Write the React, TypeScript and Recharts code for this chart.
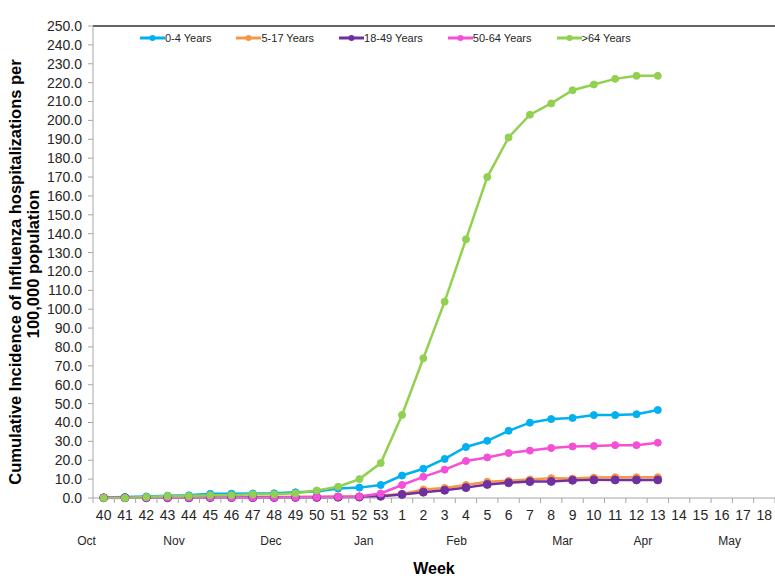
import React from "react";
import {
  LineChart,
  Line,
  XAxis,
  YAxis,
  Legend,
  ReferenceLine,
  Label,
} from "recharts";

const WEEKS = [
  "40", "41", "42", "43", "44", "45", "46", "47", "48", "49", "50", "51", "52", "53",
  "1", "2", "3", "4", "5", "6", "7", "8", "9", "10", "11", "12", "13", "14", "15", "16", "17", "18",
];

// values through week 13; later weeks are empty
const AGE_0_4 = [
  0.3, 0.5, 0.8, 1.2, 1.4, 2.2, 2.3, 2.4, 2.5, 3.0, 3.5, 5.0, 5.5, 6.9,
  11.9, 15.5, 20.7, 27.0, 30.3, 35.6, 39.9, 41.8, 42.4, 43.9, 43.9, 44.4, 46.6,
];
const AGE_5_17 = [
  0.1, 0.1, 0.2, 0.2, 0.3, 0.4, 0.4, 0.5, 0.5, 0.6, 0.7, 0.8, 0.9, 1.3,
  2.1, 4.5, 5.3, 6.9, 8.6, 9.1, 9.8, 10.5, 10.3, 10.8, 11.0, 11.0, 11.0,
];
const AGE_18_49 = [
  0.1, 0.1, 0.1, 0.1, 0.1, 0.2, 0.2, 0.2, 0.2, 0.3, 0.3, 0.4, 0.5, 0.9,
  1.9, 3.1, 4.1, 5.5, 7.2, 8.1, 8.7, 8.8, 9.4, 9.6, 9.6, 9.6, 9.6,
];
const AGE_50_64 = [
  0.1, 0.1, 0.2, 0.2, 0.2, 0.3, 0.3, 0.3, 0.3, 0.4, 0.5, 0.7, 0.8, 2.4,
  6.9, 11.2, 15.0, 19.6, 21.5, 23.8, 25.1, 26.5, 27.3, 27.5, 28.0, 28.0, 29.3,
];
const AGE_65 = [
  0.0, 0.0, 0.5, 1.0, 1.0, 1.5, 1.5, 2.0, 2.0, 2.5, 4.0, 6.0, 10.0, 18.5,
  44.0, 74.0, 104.0, 137.0, 170.0, 191.0, 203.0, 209.0, 216.0, 219.0, 222.0, 223.6, 223.6,
];

const SERIES = [
  { key: "a", name: "0-4 Years", color: "#00B0F0", values: AGE_0_4 },
  { key: "b", name: "5-17 Years", color: "#F79646", values: AGE_5_17 },
  { key: "c", name: "18-49 Years", color: "#7030A0", values: AGE_18_49 },
  { key: "d", name: "50-64 Years", color: "#F54FD7", values: AGE_50_64 },
  { key: "e", name: ">64 Years", color: "#92D050", values: AGE_65 },
];

// month name, anchor week, shift in weeks
const MONTHS: [string, string, number][] = [
  ["Oct", "40", -0.8],
  ["Nov", "43", 0.3],
  ["Dec", "48", -0.15],
  ["Jan", "52", 0.2],
  ["Feb", "3", 0.56],
  ["Mar", "8", 0.53],
  ["Apr", "13", -0.7],
  ["May", "17", -0.63],
];

const Y_TICKS = Array.from({ length: 26 }, (_, i) => i * 10);

const data = WEEKS.map((w, i) => {
  const row: Record<string, string | number | null> = { week: w };
  SERIES.forEach((s) => {
    row[s.key] = i < s.values.length ? s.values[i] : null;
  });
  return row;
});

const STEP = 21.3;
const FONT = "'Liberation Sans', Arial, sans-serif";

function WeekTick(props: any) {
  const { x, y, payload, index } = props;
  const month = MONTHS.find((m) => m[1] === payload.value);
  const last = index === WEEKS.length - 1;
  return (
    <g>
      <line x1={x - STEP / 2} x2={x - STEP / 2} y1={y - 8} y2={y - 3} stroke="#A6A6A6" />
      {last && (
        <line x1={x + STEP / 2} x2={x + STEP / 2} y1={y - 8} y2={y - 3} stroke="#A6A6A6" />
      )}
      <text x={x} y={y + 14} textAnchor="middle" fontSize={14} fill="#262626" fontFamily={FONT}>
        {payload.value}
      </text>
      {month && (
        <text
          x={x + month[2] * STEP}
          y={y + 39}
          textAnchor="middle"
          fontSize={12}
          fill="#262626"
          fontFamily={FONT}
        >
          {month[0]}
        </text>
      )}
    </g>
  );
}

function LegendBox() {
  return (
    <div style={{ display: "flex", fontFamily: FONT, fontSize: 11, color: "#262626" }}>
      {SERIES.map((s) => (
        <div key={s.key} style={{ display: "flex", alignItems: "center", marginRight: 25 }}>
          <svg width={25} height={8}>
            <line x1={0} x2={25} y1={4} y2={4} stroke={s.color} strokeWidth={3} />
            <circle cx={12.5} cy={4} r={3} fill={s.color} />
          </svg>
          <span>{s.name}</span>
        </div>
      ))}
    </div>
  );
}

function YTitle() {
  const cy = 272;
  return (
    <g fontFamily={FONT} fontWeight="bold" fontSize={16.5} fill="#000">
      <text x={15} y={cy} textAnchor="middle" dominantBaseline="central" transform={`rotate(-90 15 ${cy})`}>
        Cumulative Incidence of Influenza hospitalizations per
      </text>
      <text x={33} y={cy - 8} textAnchor="middle" dominantBaseline="central" transform={`rotate(-90 33 ${cy - 8})`}>
        100,000 population
      </text>
    </g>
  );
}

export default function App() {
  return (
    <div style={{ position: "absolute", left: 0, top: 0, width: 775, height: 576, background: "#fff" }}>
      <LineChart width={775} height={576} data={data} margin={{ top: 14, right: 0, left: 0, bottom: 0 }}>
        <XAxis
          dataKey="week"
          interval={0}
          padding={{ left: 10.65, right: 10.65 }}
          stroke="#A6A6A6"
          tickLine={false}
          tick={<WeekTick />}
          height={78}
        >
          <Label
            value="Week"
            position="insideBottom"
            offset={0}
            dy={-2}
            style={{ fontFamily: FONT, fontWeight: "bold", fontSize: 16, fill: "#000" }}
          />
        </XAxis>
        <YAxis
          width={93}
          domain={[0, 250]}
          ticks={Y_TICKS}
          interval={0}
          stroke="#A6A6A6"
          tickSize={5}
          tickMargin={6}
          tick={{ fontSize: 14, fill: "#262626", fontFamily: FONT }}
          tickFormatter={(v: number) => v.toFixed(1)}
        >
          <Label content={<YTitle />} />
        </YAxis>
        <ReferenceLine y={250} stroke="#303030" strokeWidth={1.5} />
        <Legend
          verticalAlign="top"
          align="left"
          content={<LegendBox />}
          wrapperStyle={{ top: 32, left: 140, width: 600 }}
        />
        {SERIES.map((s) => (
          <Line
            key={s.key}
            dataKey={s.key}
            name={s.name}
            stroke={s.color}
            strokeWidth={2.5}
            dot={{ r: s.key === "c" ? 4 : 3.5, fill: s.color, stroke: s.color, strokeWidth: 1 }}
            isAnimationActive={false}
          />
        ))}
      </LineChart>
    </div>
  );
}
